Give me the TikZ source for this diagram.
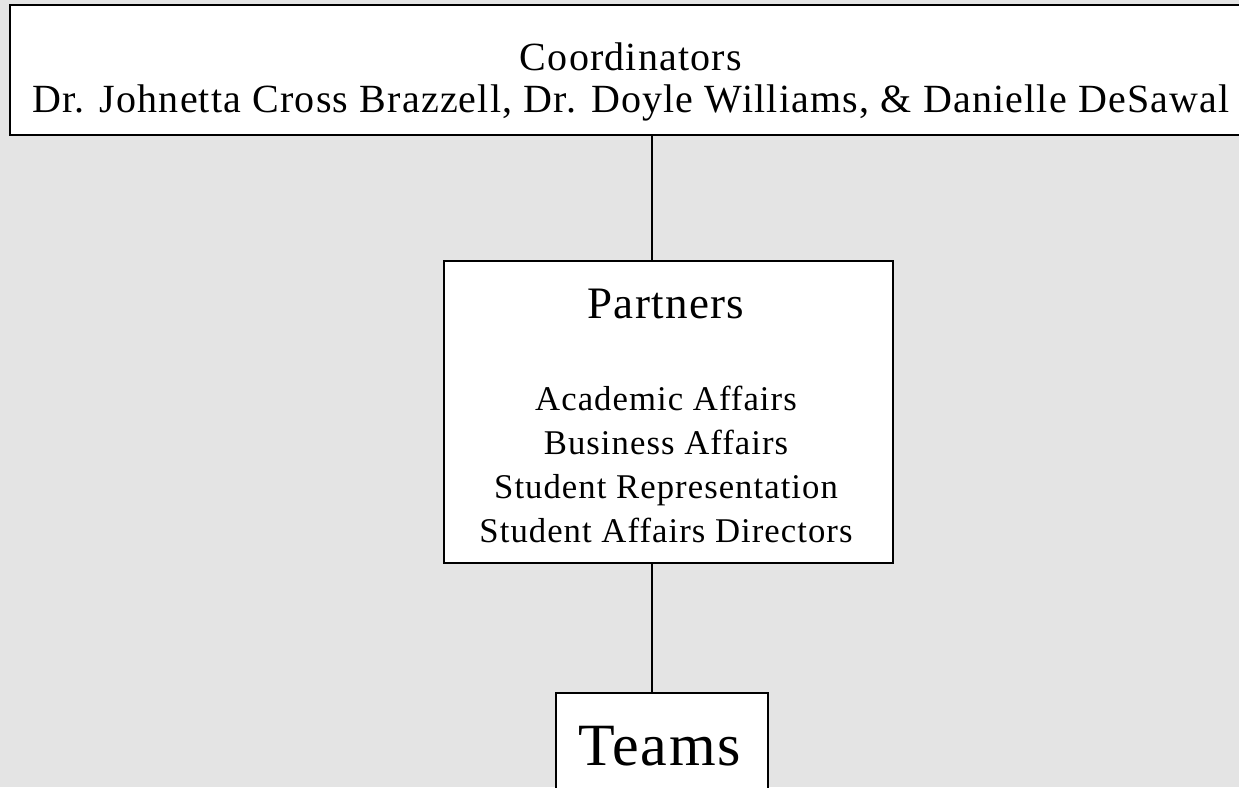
\documentclass[tikz,border=0pt]{standalone}
\usepackage{fontspec}
\setmainfont{Liberation Serif}[LetterSpace=3]
\usepackage{tikz}
\usetikzlibrary{positioning}
\definecolor{paper}{RGB}{228,228,228}
\tikzstyle{orgbox} = [rectangle, draw=black, fill=white, line width=1.4pt, inner sep=0pt]
\tikzstyle{label} = [anchor=base, inner sep=0pt]
\tikzstyle{link} = [line width=1.4pt]

\begin{document}
\begin{tikzpicture}[x=1pt, y=-1pt]
\fill[paper] (0,0) rectangle (1239,787);
\useasboundingbox (0,0) rectangle (1239,787);
\clip (0,0) rectangle (1239,787);
\node (coord) [orgbox, minimum width=1240pt, minimum height=130pt] at (630,70) {};
\node (partners) [orgbox, minimum width=449pt, minimum height=302pt] at (668.5,412) {};
\node (teams) [orgbox, minimum width=212pt, minimum height=140pt] at (662,763) {};
\coordinate (spine) at (652,0);
% box texts
\node (coordtitle) [label, font=\fontsize{40}{44}\selectfont] at (631,70) {Coordinators};
\node (coordnames) [label, font=\fontsize{40}{44}\selectfont] at (631,112) {Dr. Johnetta Cross Brazzell, Dr. Doyle Williams, \& Danielle DeSawal};
\node (partnerstitle) [label, font=\fontsize{45}{50}\selectfont] at (666,318) {Partners};
\foreach \txt [count=\i] in {Academic Affairs, Business Affairs, Student Representation, Student Affairs Directors}
  \node (member\i) [label, font=\fontsize{34.7}{44}\selectfont] at (666,366+44*\i) {\txt};
\node (teamstitle) [label, font=\fontsize{60}{64}\selectfont] at (659.5,765) {Teams};
% connectors
\draw [link] (coord.south -| spine) -- (partners.north -| spine);
\draw [link] (partners.south -| spine) -- (teams.north -| spine);
\end{tikzpicture}
\end{document}
